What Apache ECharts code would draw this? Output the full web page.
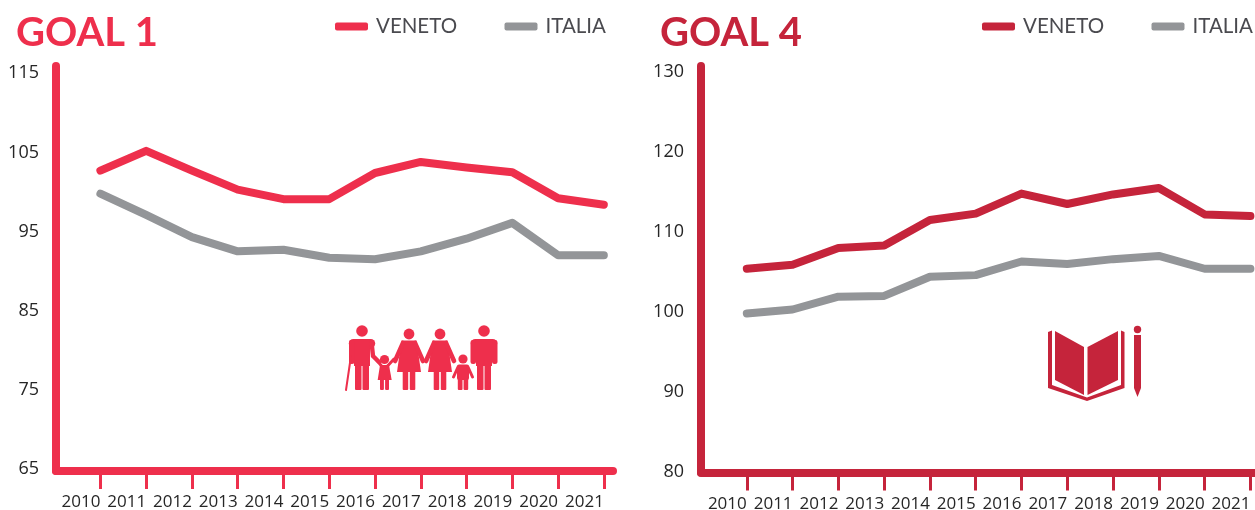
<!DOCTYPE html>
<html><head><meta charset="utf-8">
<script src="https://cdn.jsdelivr.net/npm/echarts@6/dist/echarts.min.js"></script>
<style>html,body{margin:0;padding:0;background:#fff}#c{width:1255px;height:510px}</style>
</head><body><div id="c"></div>
<script>
const years = [2010,2011,2012,2013,2014,2015,2016,2017,2018,2019,2020,2021];
const goal1Veneto = [102.7,105.2,102.7,100.3,99.1,99.1,102.4,103.8,103.1,102.5,99.2,98.4];
const goal1Italia = [99.8,97.1,94.3,92.5,92.7,91.7,91.5,92.5,94.1,96.1,92,92];
const goal4Veneto = [105.4,105.9,108,108.3,111.5,112.3,114.8,113.5,114.7,115.5,112.2,112];
const goal4Italia = [99.8,100.3,101.9,102,104.4,104.6,106.3,106,106.6,107,105.4,105.4];
const goal1Ticks = [65,75,85,95,105,115];
const goal4Ticks = [80,90,100,110,120,130];

const RED1='#EE2F4C', RED4='#C5243B', GREY='#939598', INK='#262626', LEG='#4a4a4f';
const pairs = a => a.map((v,i)=>[years[i],v]);

function xAxis(i,min,max,color){return {
  type:'value',gridIndex:i,min,max,
  splitLine:{show:false},
  axisLine:{lineStyle:{color,width:8,cap:'round'}},
  axisTick:{show:true,customValues:years,length:18,inside:false,lineStyle:{color,width:3}},
  axisLabel:{customValues:years,align:'right',margin:23,color:INK,fontFamily:'Open Sans',fontSize:17,formatter:v=>String(v),hideOverlap:false}
};}
function yAxis(i,min,max,color,ticks){return {
  type:'value',gridIndex:i,min,max,
  splitLine:{show:false},
  axisLine:{onZero:false,lineStyle:{color,width:8,cap:'round'}},
  axisTick:{show:false},
  axisLabel:{customValues:ticks,margin:17,padding:[3,0,0,0],color:INK,fontFamily:'Open Sans',fontSize:18,formatter:v=>String(v)}
};}
function line(name,i,data,color){return {
  type:'line',name,xAxisIndex:i,yAxisIndex:i,data:pairs(data),symbol:'none',
  lineStyle:{color,width:8,cap:'round',join:'round'},itemStyle:{color},z:3,animation:false
};}
function legend(left,name,color){return {
  left,top:11,icon:'roundRect',itemWidth:33,itemHeight:8,itemGap:0,
  textStyle:{color:LEG,fontFamily:'Lato',fontSize:20.5,padding:[0,0,0,3]},
  selectedMode:false,
  data:[{name,itemStyle:{color}}]
};}

// decorative icons
const circ=(cx,cy,r,c)=>({type:'circle',shape:{cx,cy,r},style:{fill:c}});
const box=(x1,y1,x2,y2,c,r)=>({type:'rect',shape:{x:x1,y:y1,width:x2-x1,height:y2-y1,r:r||0},style:{fill:c}});
const poly=(pts,c)=>({type:'polygon',shape:{points:pts},style:{fill:c}});
const stroke=(pts,c,w)=>({type:'polyline',shape:{points:pts},style:{stroke:c,lineWidth:w,fill:null,lineCap:'round',lineJoin:'miter'}});

function man(cx,c){return [
  circ(cx,331,5.8,c),
  box(cx-13.2,339,cx+13.2,348,c,4.5),
  box(cx-8,340,cx+8,366,c),
  box(cx-7,360,cx-0.5,390,c,1),
  box(cx+0.5,360,cx+7,390,c,1)
];}
function woman(cx,c){return [
  circ(cx,334,5.4,c),
  poly([[cx-7.5,340.5],[cx+7.5,340.5],[cx+12,372],[cx-12,372]],c),
  box(cx-6.3,370,cx-0.8,390,c,1),
  box(cx+0.8,370,cx+6.3,390,c,1),
  stroke([[cx-6,343],[cx-14,361]],c,4.6),
  stroke([[cx+6,343],[cx+14,361]],c,4.6)
];}
const f=RED1, b=RED4;
const family=[].concat(
  man(362,f),
  [box(349,340,354.5,364,f,2.5),stroke([[371.5,342],[373,356],[379,362]],f,4.4),stroke([[351,356],[346,390]],f,2)],
  [circ(384.5,359.5,4.6,f),poly([[380,365],[389,365],[391.7,380],[377.7,380]],f),box(380,378,383.9,390,f,1),box(385.1,378,389,390,f,1),
   stroke([[381.5,366],[376,359]],f,3),stroke([[387.5,366],[394,359]],f,3)],
  woman(409,f),
  woman(440,f),
  [circ(463,359,4.6,f),box(457,364.5,469,380,f,2),box(457.8,378,462.5,390,f,1),box(463.6,378,468.2,390,f,1),
   stroke([[458,367],[453.5,377]],f,3),stroke([[468,367],[472.5,377]],f,3)],
  man(484,f),
  [box(470.5,340,476,364,f,2.5),box(492,340,497.5,364,f,2.5)]
);
const book=[
  poly([[1055,331],[1084,347],[1084,395],[1055,380]],b),
  poly([[1087.5,347],[1118,331],[1118,380],[1087.5,395]],b),
  poly([[1048,332],[1052,330.5],[1052,385],[1087,397.5],[1121,385],[1121,330.5],[1124.5,332],[1124.5,388],[1087,401],[1048,388]],b),
  circ(1137.5,329.5,3.7,b),
  poly([[1134,335],[1141,335],[1141,388],[1137.5,397],[1134,388]],b)
];

const option={
  backgroundColor:'#fff',animation:false,
  title:[
    {text:'GOAL 1',left:11,top:8,textStyle:{color:RED1,fontFamily:'Lato',fontWeight:'bold',fontSize:40}},
    {text:'GOAL 4',left:655,top:8,textStyle:{color:RED4,fontFamily:'Lato',fontWeight:'bold',fontSize:40}}
  ],
  legend:[legend(330,'VENETO',RED1),legend(499.5,'ITALIA',GREY),legend(977,'VENETO',RED4),legend(1146.5,'ITALIA',GREY)],
  grid:[
    {left:56,top:66,width:557,bottom:39,outerBoundsMode:'none'},
    {left:701,top:66,width:554,bottom:37.5,outerBoundsMode:'none'}
  ],
  xAxis:[xAxis(0,2009.03,2021.2,RED1),xAxis(1,2009.0,2021.1,RED4)],
  yAxis:[yAxis(0,64.75,115.92,RED1,goal1Ticks),yAxis(1,79.9,130.77,RED4,goal4Ticks)],
  series:[
    line('VENETO',0,goal1Veneto,RED1),line('ITALIA',0,goal1Italia,GREY),
    line('VENETO',1,goal4Veneto,RED4),line('ITALIA',1,goal4Italia,GREY)
  ],
  graphic:[{type:'group',silent:true,children:family.concat(book)}]
};
const chart=echarts.init(document.getElementById('c'),null,{renderer:'canvas'});
chart.setOption(option);
</script></body></html>
